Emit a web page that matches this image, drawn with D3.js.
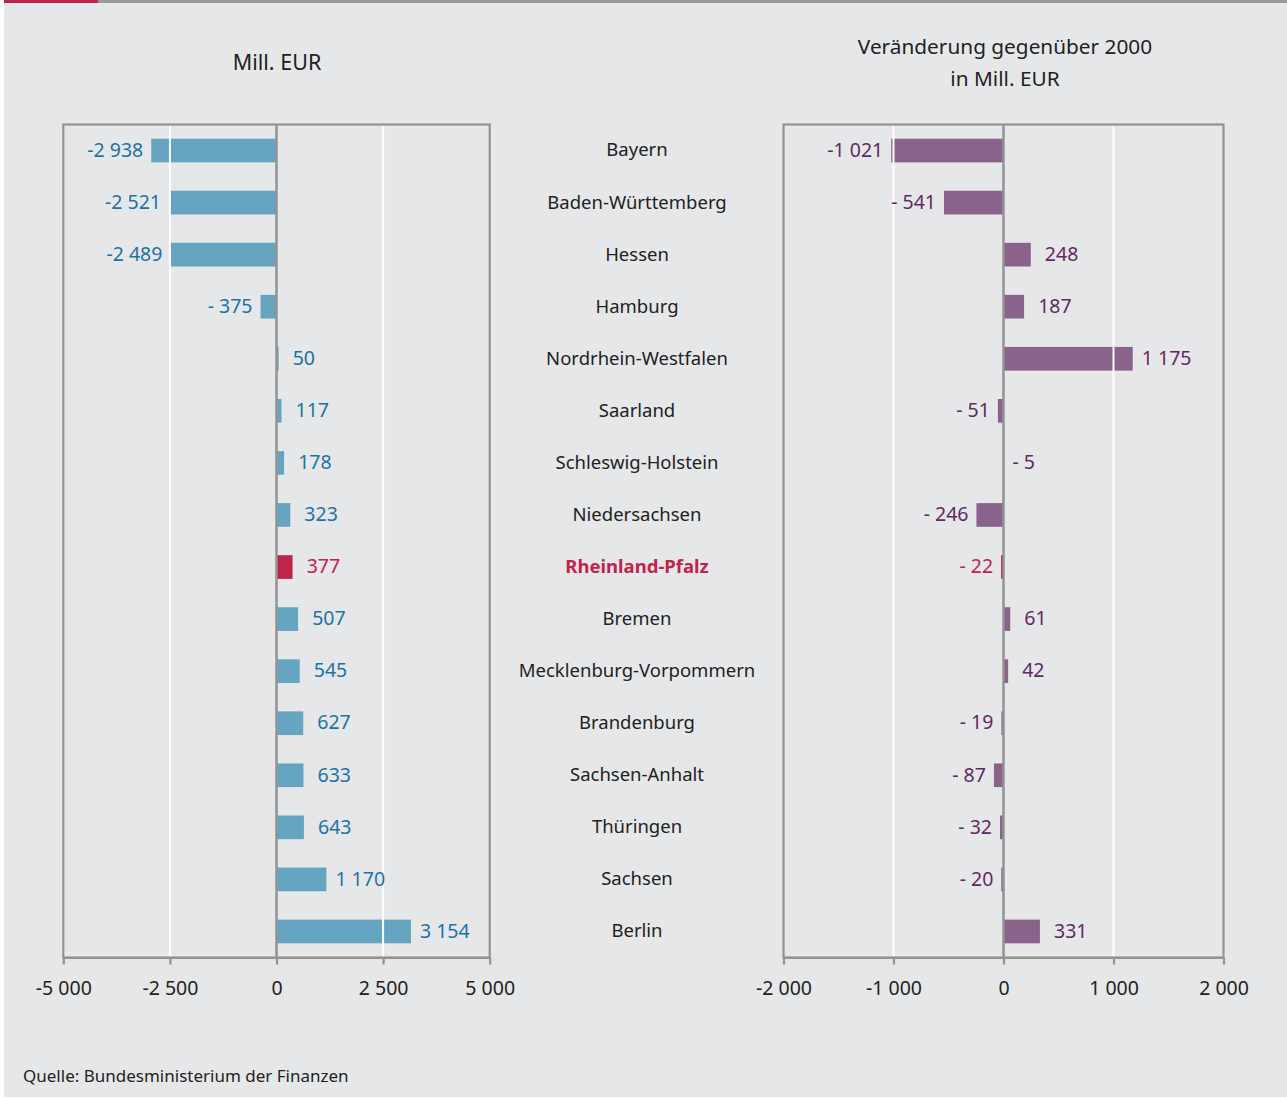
<!DOCTYPE html>
<html>
<head>
<meta charset="utf-8">
<script src="https://cdn.jsdelivr.net/npm/d3@7"></script>
<style>
  html, body { margin: 0; padding: 0; background: #ffffff; }
  svg { display: block; font-family: "Noto Sans", "DejaVu Sans", sans-serif; }
</style>
</head>
<body>
<svg id="chart" width="1287" height="1099"></svg>
<script>
// ---------- data ----------
const categories = ["Bayern", "Baden-Württemberg", "Hessen", "Hamburg", "Nordrhein-Westfalen",
  "Saarland", "Schleswig-Holstein", "Niedersachsen", "Rheinland-Pfalz", "Bremen",
  "Mecklenburg-Vorpommern", "Brandenburg", "Sachsen-Anhalt", "Thüringen", "Sachsen", "Berlin"];
const values2010 = [-2938, -2521, -2489, -375, 50, 117, 178, 323, 377, 507, 545, 627, 633, 643, 1170, 3154];
const changes = [-1021, -541, 248, 187, 1175, -51, -5, -246, -22, 61, 42, -19, -87, -32, -20, 331];
const highlight = "Rheinland-Pfalz";
const leftTicks = [-5000, -2500, 0, 2500, 5000];
const rightTicks = [-2000, -1000, 0, 1000, 2000];
const leftTitle = ["Mill. EUR"];
const rightTitle = ["Veränderung gegenüber 2000", "in Mill. EUR"];
const sourceText = "Quelle: Bundesministerium der Finanzen";

// ---------- styles ----------
const C = {
  bg: "#e6e7e9", frame: "#939393", grid: "#ffffff",
  blue: "#66a5c1", blueText: "#2272a6",
  purple: "#89638c", purpleText: "#5f2b62",
  red: "#c0244b", text: "#222222"
};
const NB = "\u00A0";

function fmtValue(v) {
  const s = v < 0 ? "-" : "";
  const a = Math.abs(v);
  const th = Math.floor(a / 1000), rest = a % 1000;
  if (th > 0) return s + th + NB + String(rest).padStart(3, "0");
  return s + NB + rest;
}
function fmtTick(v) {
  if (v === 0) return "0";
  const s = v < 0 ? "-" : "";
  const a = Math.abs(v);
  const th = Math.floor(a / 1000), rest = a % 1000;
  return s + (th > 0 ? th + NB + String(rest).padStart(3, "0") : rest);
}

const svg = d3.select("#chart");
svg.append("rect").attr("x", 4).attr("y", 0).attr("width", 1283).attr("height", 1097).attr("fill", C.bg);
svg.append("rect").attr("x", 98).attr("y", 0).attr("width", 1189).attr("height", 3).attr("fill", "#9a9a9a");
svg.append("rect").attr("x", 4).attr("y", 0).attr("width", 94).attr("height", 3).attr("fill", C.red);

const plotTop = 124.5, plotBottom = 957.5;
const y = d3.scaleBand().domain(categories).range([plotTop, plotBottom]).paddingInner(0.545).paddingOuter(0.2725);

function panel(vals, x, ticks, barColor, textColor) {
  const g = svg.append("g");
  const [x0, x1] = x.range();
  // bars
  g.selectAll("rect.bar").data(categories).join("rect")
    .attr("class", "bar")
    .attr("x", (d, i) => Math.min(x(0), x(vals[i])))
    .attr("width", (d, i) => Math.abs(x(vals[i]) - x(0)))
    .attr("y", d => y(d))
    .attr("height", y.bandwidth())
    .attr("fill", d => d === highlight ? C.red : barColor);
  // white gridlines over bars
  g.selectAll("line.grid").data(ticks.filter(t => t !== 0 && t !== x.domain()[0] && t !== x.domain()[1])).join("line")
    .attr("x1", d => x(d)).attr("x2", d => x(d))
    .attr("y1", plotTop + 1).attr("y2", plotBottom - 1)
    .attr("stroke", C.grid).attr("stroke-width", 2);
  // frame
  g.append("rect").attr("x", x0).attr("y", plotTop).attr("width", x1 - x0).attr("height", plotBottom - plotTop)
    .attr("fill", "none").attr("stroke", C.frame).attr("stroke-width", 2.2);
  // zero line
  g.append("line").attr("x1", x(0)).attr("x2", x(0)).attr("y1", plotTop).attr("y2", plotBottom)
    .attr("stroke", C.frame).attr("stroke-width", 2.5);
  // axis
  const axis = d3.axisBottom(x).tickValues(ticks).tickSize(7).tickSizeOuter(0).tickFormat(fmtTick).tickPadding(17);
  const ax = g.append("g").attr("transform", `translate(0,${plotBottom})`).call(axis);
  ax.select(".domain").attr("stroke", C.frame).attr("stroke-width", 2.2);
  ax.selectAll(".tick line").attr("stroke", C.frame).attr("stroke-width", 2.2);
  ax.selectAll(".tick text").attr("fill", C.text).attr("font-size", 19.5)
    .attr("font-family", "Noto Sans");
  // value labels
  g.selectAll("text.val").data(categories).join("text")
    .attr("class", "val")
    .attr("x", (d, i) => {
      const v = vals[i];
      const w = Math.abs(x(v) - x(0));
      if (v >= 0 || w < 1) return Math.max(x(v), x(0)) + 9;
      return x(v) - 8;
    })
    .attr("y", d => y(d) + y.bandwidth() / 2)
    .attr("dy", "0.32em")
    .attr("text-anchor", (d, i) => (vals[i] >= 0 || Math.abs(x(vals[i]) - x(0)) < 1) ? "start" : "end")
    .attr("font-size", 19.5)
    .attr("fill", d => d === highlight ? C.red : textColor)
    .text((d, i) => fmtValue(vals[i]));
}

const xL = d3.scaleLinear().domain([-5000, 5000]).range([63.3, 489.7]);
const xR = d3.scaleLinear().domain([-2000, 2000]).range([783.5, 1223.5]);
panel(values2010, xL, leftTicks, C.blue, C.blueText);
panel(changes, xR, rightTicks, C.purple, C.purpleText);

// category labels
svg.append("g").selectAll("text").data(categories).join("text")
  .attr("x", 637).attr("y", d => y(d) + y.bandwidth() / 2).attr("dy", "0.32em")
  .attr("text-anchor", "middle").attr("font-size", 18.5)
  .attr("font-weight", d => d === highlight ? "bold" : "normal")
  .attr("fill", d => d === highlight ? C.red : C.text)
  .text(d => d);

// titles
svg.append("g").selectAll("text").data(leftTitle).join("text")
  .attr("x", 277).attr("y", (d, i) => 70 + i * 32).attr("text-anchor", "middle")
  .attr("font-size", 21.5).attr("fill", C.text).text(d => d);
svg.append("g").selectAll("text").data(rightTitle).join("text")
  .attr("x", 1005).attr("y", (d, i) => 54 + i * 32).attr("text-anchor", "middle")
  .attr("font-size", 20.8).attr("fill", C.text).text(d => d);

svg.append("text").attr("x", 23).attr("y", 1082).attr("font-size", 17)
  .attr("fill", C.text).text(sourceText);
</script>
</body>
</html>
